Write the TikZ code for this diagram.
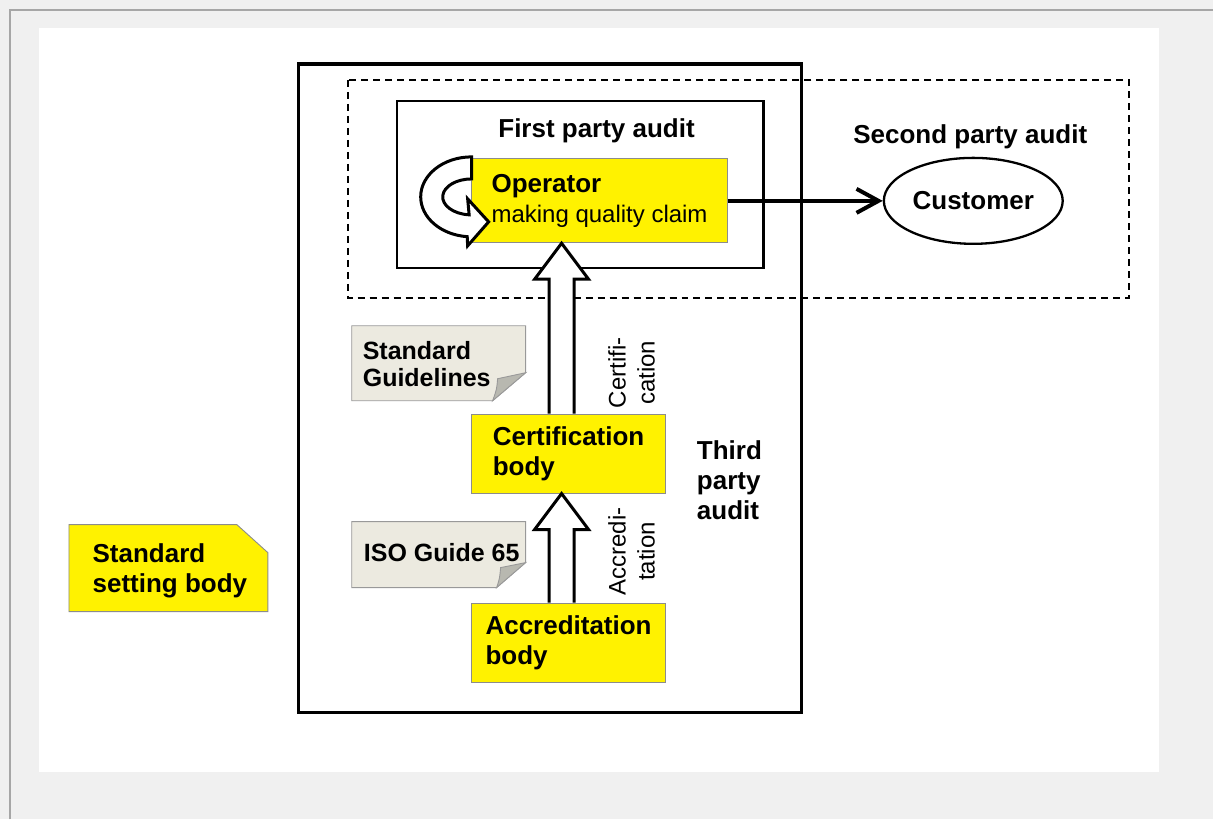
\documentclass[tikz,border=0pt]{standalone}
\usepackage{fontspec}
\setmainfont{Liberation Sans}
\usetikzlibrary{arrows.meta,calc,shapes.geometric}
\definecolor{framegray}{HTML}{F0F0F0}
\definecolor{notegray}{HTML}{ECEAE0}
\definecolor{foldgray}{HTML}{B8B8B0}

\begin{document}
\begin{tikzpicture}[x=1pt, y=-1pt,
  lbl/.style={align=left, inner sep=0pt, font=\fontsize{26}{30}\selectfont\bfseries},
  ybox/.style={fill=yellow, draw=black!45, line width=0.9pt, minimum width=194pt, minimum height=79pt, align=left, font=\fontsize{26}{30}\selectfont\bfseries},
  notebox/.style={fill=notegray, draw=black!40, line width=0.9pt},
  notetext/.style={align=left, inner sep=0pt, font=\fontsize{25}{27}\selectfont\bfseries},
  sidelbl/.style={rotate=90, align=center, inner sep=0pt, font=\fontsize{24}{29}\selectfont},
  blockarrow/.style={fill=white, draw=black, line width=3pt, line join=miter}]
  \fill[framegray] (0,0) rectangle (1214,820);
  \draw[black!35, line width=1.8pt] (10,820) -- (10,10) -- (1214,10);
  \fill[white] (39,28) rectangle (1160,773);
  \useasboundingbox (0,0) rectangle (1214,820);

  \draw[line width=3.2pt] (299,64) rectangle (802,713);
  \draw[line width=2pt, dash pattern=on 7pt off 5pt] (348,80) rectangle (1130,298);
  \draw[line width=2.2pt] (397,101) rectangle (764,268);

  \node[lbl] (first) at (597,131) {First party audit};
  \node[lbl] (second) at (971,137) {Second party audit};
  \node[ybox, minimum width=256pt, minimum height=84pt] (op) at (600,201)
    {Operator\\\mdseries\fontsize{24}{27}\selectfont making quality claim};
  \node[ellipse, draw, line width=2.3pt, minimum width=179pt, minimum height=86pt, lbl] (cust) at (974,201) {Customer};
  \draw[line width=4pt, -{Straight Barb[length=22pt,width=24pt]}] (op.east) -- (cust.west);

  \draw[fill=white, line width=3pt, line join=miter] (472,157)
    arc[start angle=270, end angle=95, x radius=51, y radius=40] -- (468,246) -- (489,222) -- (468,199) -- (469.5,215)
    arc[start angle=95, end angle=270, x radius=29, y radius=18] -- cycle;

  \node[ybox] (cert) at (569,454) {Certification\\body};
  \node[ybox] (accr) at (569,643) {Accreditation\\body};
  \foreach \lo/\hi in {cert/op, accr/cert}{
    \coordinate (b) at ([xshift=-7pt]\lo.north);
    \coordinate (t) at (b |- \hi.south);
    \draw[blockarrow] ($(b)+(-12.5,0)$) -- ($(t)+(-12.5,36)$) -- ($(t)+(-27,36)$) -- (t)
      -- ($(t)+(27,36)$) -- ($(t)+(12.5,36)$) -- ($(b)+(12.5,0)$);
  }
  \node[sidelbl] (certlbl) at (632,373) {Certifi-\\cation};
  \node[sidelbl] (accrlbl) at (632,552) {Accredi-\\tation};
  \node[lbl] (third) at (730,481) {Third\\party\\audit};

  \draw[notebox] (352,326) -- (526,326) -- (526,373) -- (493,401) -- (352,401) -- cycle;
  \draw[fill=foldgray, draw=black!40, line width=0.9pt] (493,401) .. controls (497,390) .. (498,379) -- (526,373) -- cycle;
  \node[notetext] (guide) at (427,364) {Standard\\Guidelines};
  \draw[notebox] (352,522) -- (526,522) -- (526,563) -- (497,588) -- (352,588) -- cycle;
  \draw[fill=foldgray, draw=black!40, line width=0.9pt] (497,588) .. controls (500,579) .. (501,568) -- (526,563) -- cycle;
  \node[notetext] (iso) at (442,553) {ISO Guide 65};

  \draw[fill=yellow, draw=black!45, line width=0.9pt] (69,525) -- (237,525) -- (268,553) -- (268,612) -- (69,612) -- cycle;
  \node[lbl] (ssb) at (170,571) {Standard\\setting body};
\end{tikzpicture}
\end{document}
